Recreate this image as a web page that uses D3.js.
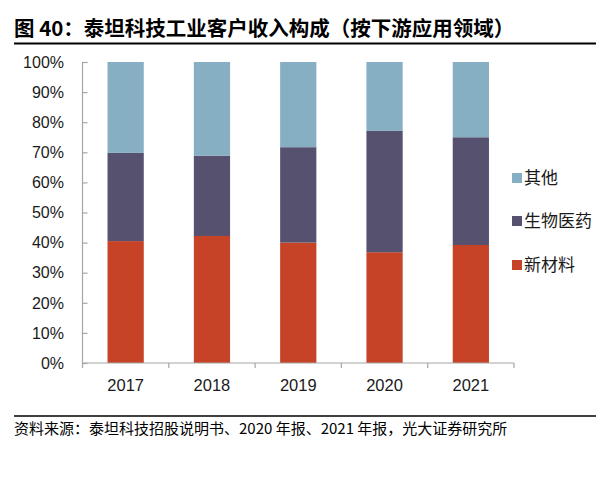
<!DOCTYPE html>
<html>
<head>
<meta charset="utf-8">
<script src="https://cdn.jsdelivr.net/npm/d3@7"></script>
<style>
  body { margin: 0; background: #fff; }
  svg text { font-family: "Noto Sans CJK SC", "Liberation Sans", sans-serif; }
  svg text.num { font-family: "Liberation Sans", Arial, sans-serif; }
</style>
</head>
<body>
<div id="chart"></div>
<script>
const years = ["2017", "2018", "2019", "2020", "2021"];
const newMaterial = [40.5, 42.2, 40.0, 36.8, 39.2];
const bioMedicine = [29.3, 26.7, 31.7, 40.3, 35.8];
const others = [30.2, 31.1, 28.3, 22.9, 25.0];
const seriesNames = ["新材料", "生物医药", "其他"];
const seriesColors = ["#c74327", "#575170", "#86afc3"];
const yTicks = [0, 10, 20, 30, 40, 50, 60, 70, 80, 90, 100];

const W = 616, H = 503;

const svg = d3.select("#chart").append("svg")
    .attr("width", W)
    .attr("height", H);

// title + rules
svg.append("text")
    .attr("x", 14).attr("y", 36)
    .attr("font-size", 20.5).attr("font-weight", "bold")
    .attr("fill", "#000")
    .text("图 40：泰坦科技工业客户收入构成（按下游应用领域）");
svg.append("line").attr("x1", 14).attr("x2", 596).attr("y1", 43.5).attr("y2", 43.5)
    .attr("stroke", "#000").attr("stroke-width", 2);
svg.append("line").attr("x1", 14).attr("x2", 596).attr("y1", 416).attr("y2", 416)
    .attr("stroke", "#000").attr("stroke-width", 1.5);
svg.append("text")
    .attr("x", 14).attr("y", 434)
    .attr("font-size", 15).attr("fill", "#000")
    .text("资料来源：泰坦科技招股说明书、2020 年报、2021 年报，光大证券研究所");

const x = d3.scaleBand()
    .domain(years)
    .range([82.5, 514])
    .paddingInner(0.58)
    .paddingOuter(0.29);

const y = d3.scaleLinear()
    .domain([0, 100])
    .range([363, 62]);

const rows = years.map((yr, i) => ({year: yr, "新材料": newMaterial[i], "生物医药": bioMedicine[i], "其他": others[i]}));
const stacked = d3.stack().keys(seriesNames)
    .offset(d3.stackOffsetExpand)(rows);

const g = svg.append("g");
g.selectAll("g.layer")
    .data(stacked)
    .join("g")
    .attr("class", "layer")
    .attr("fill", (d, i) => seriesColors[i])
    .selectAll("rect")
    .data(d => d)
    .join("rect")
    .attr("x", d => x(d.data.year))
    .attr("width", x.bandwidth())
    .attr("y", d => y(d[1] * 100))
    .attr("height", d => y(d[0] * 100) - y(d[1] * 100));

// y axis
const yAxis = svg.append("g")
    .attr("transform", "translate(82.5,0)")
    .call(d3.axisRight(y).tickValues(yTicks).tickSize(5).tickFormat(""));
yAxis.selectAll("path, line").attr("stroke", "#a6a6a6").attr("stroke-width", 1.2);
yAxis.select(".domain").attr("d", "M5,62.5H0V363");

svg.append("g").selectAll("text")
    .data(yTicks)
    .join("text")
    .attr("class", "num")
    .attr("x", 64)
    .attr("y", d => y(d))
    .attr("dy", "0.36em")
    .attr("text-anchor", "end")
    .attr("font-size", 16)
    .attr("fill", "#1a1a1a")
    .text(d => d + "%");

// x axis
const step = x.step();
const xAxis = svg.append("g")
    .attr("transform", "translate(0,363)");
xAxis.append("line").attr("x1", 82.5).attr("x2", 514).attr("y1", 0).attr("y2", 0)
    .attr("stroke", "#a6a6a6").attr("stroke-width", 1.2);
xAxis.selectAll("line.tk")
    .data(d3.range(years.length + 1))
    .join("line")
    .attr("class", "tk")
    .attr("x1", i => 82.5 + i * step)
    .attr("x2", i => 82.5 + i * step)
    .attr("y1", 0).attr("y2", 5)
    .attr("stroke", "#a6a6a6").attr("stroke-width", 1.2);
xAxis.selectAll("text")
    .data(years)
    .join("text")
    .attr("class", "num")
    .attr("x", d => x(d) + x.bandwidth() / 2)
    .attr("y", 28)
    .attr("text-anchor", "middle")
    .attr("font-size", 16.5)
    .attr("fill", "#1a1a1a")
    .text(d => d);

// legend (reversed order)
const legendY = [178, 221, 265];
const legend = svg.append("g");
[2, 1, 0].forEach((k, i) => {
  legend.append("rect")
      .attr("x", 512).attr("y", legendY[i] - 5)
      .attr("width", 10).attr("height", 10)
      .attr("fill", seriesColors[k]);
  legend.append("text")
      .attr("x", 524).attr("y", legendY[i])
      .attr("dy", "0.36em")
      .attr("font-size", 17)
      .attr("fill", "#1a1a1a")
      .text(seriesNames[k]);
});
</script>
</body>
</html>
